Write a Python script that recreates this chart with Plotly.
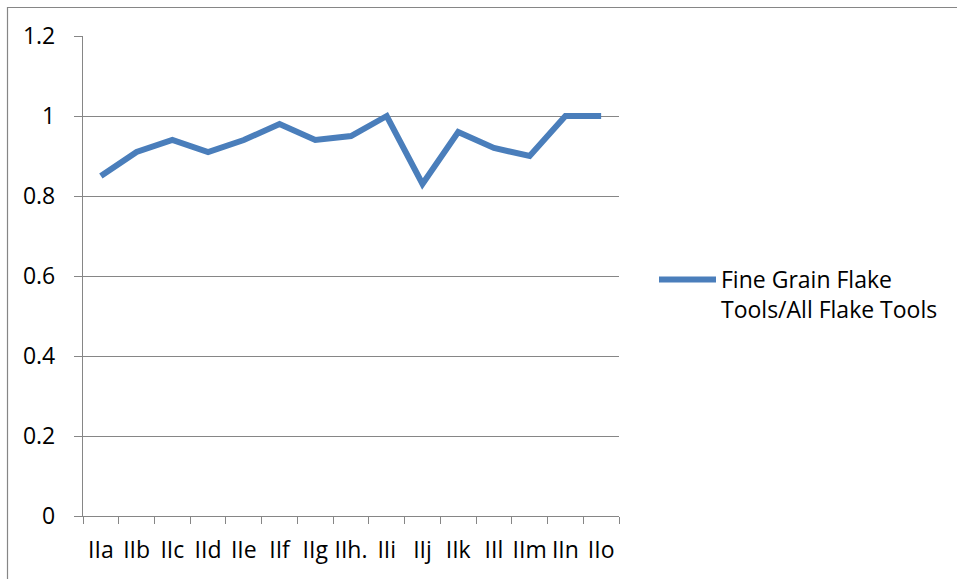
import plotly.graph_objects as go

categories = ["IIa", "IIb", "IIc", "IId", "IIe", "IIf", "IIg", "IIh.", "IIi",
              "IIj", "IIk", "IIl", "IIm", "IIn", "IIo"]
ratio_values = [0.85, 0.91, 0.94, 0.91, 0.94, 0.98, 0.94, 0.95, 1.0,
                0.83, 0.96, 0.92, 0.90, 1.0, 1.0]
series_name = "Fine Grain Flake<br>Tools/All Flake Tools"
y_ticks = [0, 0.2, 0.4, 0.6, 0.8, 1.0, 1.2]

W, H = 957, 579
L, R, T, B = 83, 619, 36, 516
pw, ph = R - L, B - T

FONT = "Open Sans"
FS = 23
GRAY = "#868686"

fig = go.Figure()
fig.add_trace(go.Scatter(
    x=categories, y=ratio_values, mode="lines", name=series_name,
    line=dict(color="#4a7ebb", width=6),
))

def px_x(v):
    return (v - L) / pw

def px_y(v):
    return (B - v) / ph

fig.update_layout(
    width=W, height=H,
    margin=dict(l=L, r=W - R, t=T, b=H - B, pad=0),
    paper_bgcolor="white", plot_bgcolor="white",
    font=dict(family=FONT, size=FS, color="black"),
    showlegend=True,
    legend=dict(x=px_x(654), y=px_y(258), xanchor="left", yanchor="top",
                itemwidth=57, valign="top", font=dict(size=FS),
                bgcolor="rgba(0,0,0,0)", tracegroupgap=0),
    shapes=[dict(type="rect", xref="paper", yref="paper",
                 x0=px_x(7.5), x1=px_x(975), y0=px_y(7.5), y1=px_y(600),
                 line=dict(color=GRAY, width=1.2), fillcolor="rgba(0,0,0,0)",
                 layer="below")],
)

fig.update_xaxes(
    type="category", range=[-0.5, len(categories) - 0.5],
    showline=True, linecolor=GRAY, linewidth=1.3,
    ticks="outside", tickson="boundaries", ticklen=7, tickcolor=GRAY, tickwidth=1.3,
    showgrid=False, ticklabelstandoff=13, tickangle=0, automargin=False,
    tickfont=dict(size=FS),
)
fig.update_yaxes(
    range=[0, 1.2], tickvals=y_ticks,
    showline=True, linecolor=GRAY, linewidth=1.3,
    ticks="outside", ticklen=8, tickcolor=GRAY, tickwidth=1.3,
    showgrid=True, gridcolor=GRAY, gridwidth=1.3, zeroline=False,
    ticklabelstandoff=14, automargin=False, tickfont=dict(size=FS),
)

fig.write_html("out.html")
